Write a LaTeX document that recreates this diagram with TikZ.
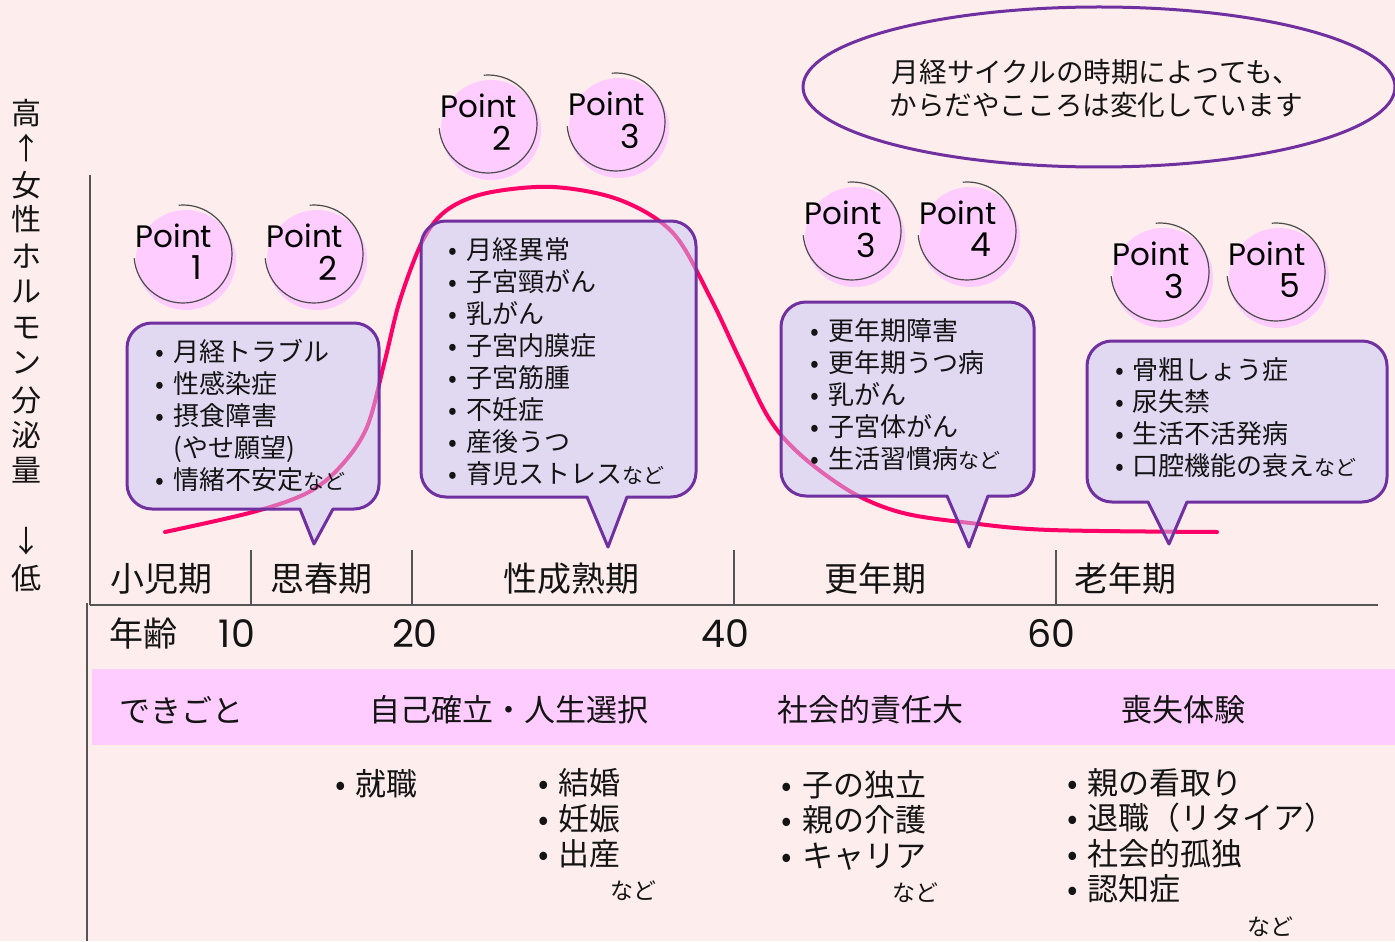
\documentclass[tikz,border=0pt]{standalone}
\usepackage{fontspec}
\setmainfont{Noto Sans CJK JP}
\newfontfamily\pop{Poppins}
\definecolor{bg}{RGB}{253,237,237}
\definecolor{band}{RGB}{255,204,255}
\definecolor{bubfill}{RGB}{199,199,247}
\definecolor{purp}{RGB}{112,48,160}
\definecolor{curvec}{RGB}{255,0,102}
\definecolor{axisc}{RGB}{85,85,85}
\definecolor{txt}{RGB}{20,20,20}
\newcommand\bl{\makebox[1em]{•}}
\newcommand\nadofont{\fontsize{10.5pt}{12pt}\selectfont}
\newcommand\bubblepath[8]{%
  \draw[bubble] (#1+25,#2) -- (#3-25,#2) arc[start angle=-90,end angle=0,radius=25]
    -- (#3,#4-25) arc[start angle=0,end angle=90,radius=25]
    -- (#8,#4) -- (#6,#7) -- (#5,#4)
    -- (#1+25,#4) arc[start angle=90,end angle=180,radius=25]
    -- (#1,#2+25) arc[start angle=180,end angle=270,radius=25] -- cycle;}
\tikzset{
  bubble/.style={fill=bubfill,fill opacity=0.5,draw=purp,draw opacity=1,line width=1.5pt,line join=round},
  axisline/.style={draw=axisc,line width=0.8pt},
  ptline/.style={draw=black!70,line width=0.6pt},
  btext/.style={font=\fontsize{13pt}{16pt}\selectfont,text=txt,align=left,anchor=west,inner sep=0},
  period/.style={font=\fontsize{17pt}{20pt}\selectfont,text=txt,inner sep=0},
  bandtext/.style={font=\fontsize{15.5pt}{18pt}\selectfont,text=txt,inner sep=0},
  ltext/.style={font=\fontsize{15.5pt}{17.75pt}\selectfont,text=txt,align=left,anchor=west,inner sep=0},
  lnado/.style={font=\fontsize{11.5pt}{13pt}\selectfont,text=txt,inner sep=0},
  vt/.style={font=\fontsize{15pt}{16pt}\selectfont,text=txt,inner sep=0},
  ptword/.style={font=\pop\fontsize{15.5pt}{17pt}\selectfont,text=black,inner sep=0},
  ptnum/.style={font=\pop\fontsize{16.5pt}{18pt}\selectfont,text=black,inner sep=0},
  agenum/.style={font=\pop\fontsize{19pt}{21pt}\selectfont,text=txt,inner sep=0},
}
\begin{document}
\begin{tikzpicture}[x=0.5pt,y=-0.5pt]
\useasboundingbox (0,0) rectangle (1395,941);
\fill[bg] (0,0) rectangle (1395,941);
% band
\fill[band] (92,669) rectangle (1395,745);
% axes
\draw[axisline] (90,175) -- (90,605);
\draw[axisline] (87,603) -- (87,941);
\draw[axisline] (90,605) -- (1378,605);
\foreach \xx in {251,412,734,1056} \draw[axisline] (\xx,550) -- (\xx,605);
% curve
\draw[curvec,line width=2pt,line cap=round] plot[smooth,tension=0.55] coordinates {
 (165,532) (253,512) (307,493) (340,467) (367,427) (385,360) (400,300) (423,240)
 (447,210) (487,193) (553,187) (620,200) (673,233) (710,297) (740,360) (770,420)
 (803,457) (853,493) (903,513) (970,523) (1050,530) (1217,532)};
% bubbles
\bubblepath{127}{323}{379}{509}{300}{314}{544}{333}
\bubblepath{421}{221}{696}{497}{587}{608}{547}{627}
\bubblepath{781}{302}{1034}{496}{947}{969}{547}{988}
\bubblepath{1087}{341}{1387}{502}{1148}{1169}{544}{1187}
% point circles
\foreach \cx/\cy/\n/\nm in {183/254/1/a,314/254/2/b,488/124/2/c,616/122/3/d,852/231/3/e,967/231/4/f,1160/272/3/g,1276/272/5/h}{
  \fill[band] (\cx+3,\cy+6) circle[radius=50];
  \draw[ptline] (\cx,\cy) ++(-95:49) arc[start angle=-95,end angle=175,radius=49];
  \node[ptword] (pw\nm) at (\cx-9,\cy-18) {Point};
  \node[ptnum] (pn\nm) at (\cx+14,\cy+14) {\n};
}
% bubble texts
\node[btext] (t1) at (147,415.8) {\bl 月経トラブル\\\bl 性感染症\\\bl 摂食障害\\\phantom{\bl}(やせ願望)\\\bl 情緒不安定{\nadofont など}};
\node[btext] (t2) at (440,361.6) {\bl 月経異常\\\bl 子宮頸がん\\\bl 乳がん\\\bl 子宮内膜症\\\bl 子宮筋腫\\\bl 不妊症\\\bl 産後うつ\\\bl 育児ストレス{\nadofont など}};
\node[btext] (t3) at (802,395) {\bl 更年期障害\\\bl 更年期うつ病\\\bl 乳がん\\\bl 子宮体がん\\\bl 生活習慣病{\nadofont など}};
\node[btext] (t4) at (1106,418) {\bl 骨粗しょう症\\\bl 尿失禁\\\bl 生活不活発病\\\bl 口腔機能の衰え{\nadofont など}};
% ellipse
\draw[purp,line width=1.5pt] (1099,87) ellipse[x radius=296,y radius=80];
\node[font=\fontsize{13.8pt}{16.5pt}\selectfont,text=txt,align=center,inner sep=0] (ell) at (1096,89) {月経サイクルの時期によっても、\\からだやこころは変化しています};
% vertical label
\foreach \ch/\yy [count=\i] in {高/113,↑/148,女/185,性/219,ホ/256,ル/292,モ/328,ン/363,分/400,泌/435,量/470,↓/541,低/578}
  \node[vt] (v\i) at (26,\yy) {\ch};
% periods
\node[period] (pe1) at (161,579) {小児期};
\node[period] (pe2) at (321,579) {思春期};
\node[period] (pe3) at (571,579) {性成熟期};
\node[period] (pe4) at (875,579) {更年期};
\node[period] (pe5) at (1125,579) {老年期};
% ages
\node[period] (age) at (143,634) {年齢};
\node[agenum] (a10) at (237,634) {10};
\node[agenum] (a20) at (415,634) {20};
\node[agenum] (a40) at (725,634) {40};
\node[agenum] (a60) at (1051,634) {60};
% band texts
\node[bandtext] (d1) at (181,710) {できごと};
\node[bandtext] (d2) at (509,710) {自己確立・人生選択};
\node[bandtext] (d3) at (870,710) {社会的責任大};
\node[bandtext] (d4) at (1183,710) {喪失体験};
% lower lists
\node[ltext] (l1) at (324.5,784) {\bl 就職};
\node[ltext] (l2) at (527.5,818.5) {\bl 結婚\\\bl 妊娠\\\bl 出産};
\node[lnado] (n2) at (633,891) {など};
\node[ltext] (l3) at (771,820) {\bl 子の独立\\\bl 親の介護\\\bl キャリア};
\node[lnado] (n3) at (915,893) {など};
\node[ltext] (l4) at (1056.5,836) {\bl 親の看取り\\\bl 退職（リタイア）\\\bl 社会的孤独\\\bl 認知症};
\node[lnado] (n4) at (1270,927) {など};
\end{tikzpicture}
\end{document}
